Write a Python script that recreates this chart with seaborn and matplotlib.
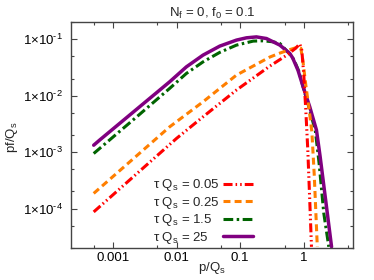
import matplotlib
matplotlib.use("Agg")
import matplotlib.pyplot as plt
import seaborn as sns
import pandas as pd
from matplotlib.ticker import FixedLocator, FixedFormatter, NullFormatter

# ---------------- data ----------------
title_text = "N$_\\mathrm{f}$ = 0, f$_0$ = 0.1"
x_label = "p/Q$_\\mathrm{s}$"
y_label = "pf/Q$_\\mathrm{s}$"
series_labels = ["τ Q$_\\mathrm{s}$ = 0.05", "τ Q$_\\mathrm{s}$ = 0.25",
                 "τ Q$_\\mathrm{s}$ = 1.5", "τ Q$_\\mathrm{s}$ = 25"]

p_005 = [4.99e-4, 2.37e-3, 0.01, 0.0261, 0.0875, 0.292, 0.541, 0.748, 0.865,
         0.93, 1.0, 1.075, 1.156, 1.24, 1.32]
f_005 = [8.7e-5, 4.13e-4, 1.74e-3, 4.2e-3, 0.0125, 0.0331, 0.0519, 0.069, 0.082,
         0.0637, 0.023, 5.5e-3, 1.08e-3, 1.4e-4, 2.1e-5]

p_025 = [4.99e-4, 1.98e-3, 7.8e-3, 0.0261, 0.0875, 0.292, 0.42, 0.602, 0.805,
         0.897, 0.965, 1.075, 1.2, 1.34, 1.46, 1.63]
f_025 = [1.85e-4, 7.2e-4, 2.79e-3, 7.74e-3, 0.023, 0.0479, 0.0563, 0.0649, 0.0719,
         0.069, 0.0424, 0.0153, 6.2e-3, 2.25e-3, 3.9e-4, 2.1e-5]

p_15 = [4.99e-4, 2.37e-3, 7.8e-3, 0.0143, 0.0261, 0.0478, 0.0875, 0.16, 0.229,
        0.329, 0.42, 0.602, 0.70, 0.84, 0.97, 1.2, 1.52, 1.74, 2.06, 2.47]
f_15 = [9.4e-4, 4.2e-3, 0.01337, 0.0246, 0.0394, 0.058, 0.078, 0.0918, 0.093,
        0.0892, 0.0836, 0.054, 0.043, 0.0265, 0.0145, 6.3e-3, 2.35e-3, 6.3e-4,
        8.3e-5, 2.1e-5]

p_25 = [4.99e-4, 6.2e-4, 7.8e-3, 0.0143, 0.0261, 0.0478, 0.0875, 0.1256, 0.18,
        0.259, 0.42, 0.602, 0.67, 0.81, 0.975, 1.24, 1.58, 1.8, 2.01, 2.73]
f_25 = [1.32e-3, 1.63e-3, 0.0175, 0.0322, 0.0519, 0.0749, 0.0957, 0.105, 0.109,
        0.102, 0.078, 0.0556, 0.046, 0.028, 0.0143, 6.3e-3, 2.45e-3, 8.5e-4,
        3.2e-4, 2.1e-5]

x_major = [0.001, 0.01, 0.1, 1]
x_major_labels = ["0.001", "0.01", "0.1", "1"]
x_minor = [5e-4, 5e-3, 5e-2, 0.5, 5]
y_major = [1e-4, 1e-3, 1e-2, 1e-1]
y_major_labels = ["1×10$^{\u2010 4}$", "1×10$^{\u2010 3}$", "1×10$^{\u2010 2}$", "1×10$^{\u2010 1}$"]
y_minor = [2e-5, 5e-5, 2e-4, 5e-4, 2e-3, 5e-3, 2e-2, 5e-2, 2e-1]

# ---------------- style ----------------
sns.set_theme(style="ticks")
plt.rcParams["font.family"] = ["Liberation Sans", "DejaVu Sans"]
plt.rcParams["mathtext.fontset"] = "custom"
plt.rcParams["mathtext.rm"] = "Liberation Sans"
plt.rcParams["mathtext.it"] = "Liberation Sans:italic"
plt.rcParams["lines.scale_dashes"] = False

FS = 9.5

fig = plt.figure(figsize=(3.74, 2.8), dpi=100)
ax = fig.add_axes([0.190, 0.1143, 0.7547, 0.8071])

styles = [
    dict(data=(p_005, f_005), color="#ff0000", lw=2.2, ls=(0, (6.5, 2.2, 1.1, 2.2, 1.1, 2.2)), z=4),
    dict(data=(p_025, f_025), color="#ff7f00", lw=2.2, ls=(0, (5.0, 3.0)), z=3),
    dict(data=(p_15, f_15), color="#006400", lw=2.2, ls=(0, (7.0, 2.5, 1.8, 2.5)), z=1),
    dict(data=(p_25, f_25), color="#800080", lw=2.5, ls="-", z=2),
]

handles = []
for st, lab in zip(styles, series_labels):
    df = pd.DataFrame({"p": st["data"][0], "pf": st["data"][1]})
    n_before = len(ax.lines)
    sns.lineplot(data=df, x="p", y="pf", ax=ax, color=st["color"],
                 linewidth=st["lw"], estimator=None, sort=False, zorder=st["z"])
    line = ax.lines[n_before]
    line.set_linestyle(st["ls"])
    line.set_label(lab)
    handles.append(line)

ax.set_xscale("log")
ax.set_yscale("log")
ax.set_xlim(2.2e-4, 6.0)
ax.set_ylim(2e-5, 0.2)

ax.xaxis.set_major_locator(FixedLocator(x_major))
ax.xaxis.set_major_formatter(FixedFormatter(x_major_labels))
ax.xaxis.set_minor_locator(FixedLocator(x_minor))
ax.xaxis.set_minor_formatter(NullFormatter())
ax.yaxis.set_major_locator(FixedLocator(y_major))
ax.yaxis.set_major_formatter(FixedFormatter(y_major_labels))
ax.yaxis.set_minor_locator(FixedLocator(y_minor))
ax.yaxis.set_minor_formatter(NullFormatter())

frame_col = "#444444"
for sp in ax.spines.values():
    sp.set_color(frame_col)
    sp.set_linewidth(1.0)
ax.tick_params(which="both", direction="in", top=True, right=True,
               color=frame_col, labelcolor="black", labelsize=FS)
ax.tick_params(which="major", length=4.3, width=0.8)
ax.tick_params(which="minor", length=2.2, width=0.8)
ax.tick_params(axis="x", which="major", pad=3)
ax.tick_params(axis="y", which="major", pad=6)

ax.set_xlabel(x_label, fontsize=FS)
ax.xaxis.set_label_coords(0.5, -0.052)
ax.set_ylabel(y_label, fontsize=FS)
ax.yaxis.set_label_coords(-0.18, 0.49)
ax.set_title(title_text, fontsize=FS, pad=4)

# legend: left-aligned labels (first legend) and an aligned column of samples
leg_kw = dict(loc="lower left", frameon=False, fontsize=FS, borderpad=0,
              labelspacing=0.12, markerfirst=True)
leg_text = ax.legend(handles=handles, bbox_to_anchor=(0.268, -0.02),
                     handlelength=0, handletextpad=0, **leg_kw)
for h in leg_text.legend_handles:
    h.set_visible(False)
ax.add_artist(leg_text)
leg_lines = ax.legend(handles=handles, bbox_to_anchor=(0.515, -0.02),
                      handlelength=2.3, handletextpad=0, **leg_kw)
for t in leg_lines.get_texts():
    t.set_alpha(0)

fig.savefig("out.png", dpi=100)
